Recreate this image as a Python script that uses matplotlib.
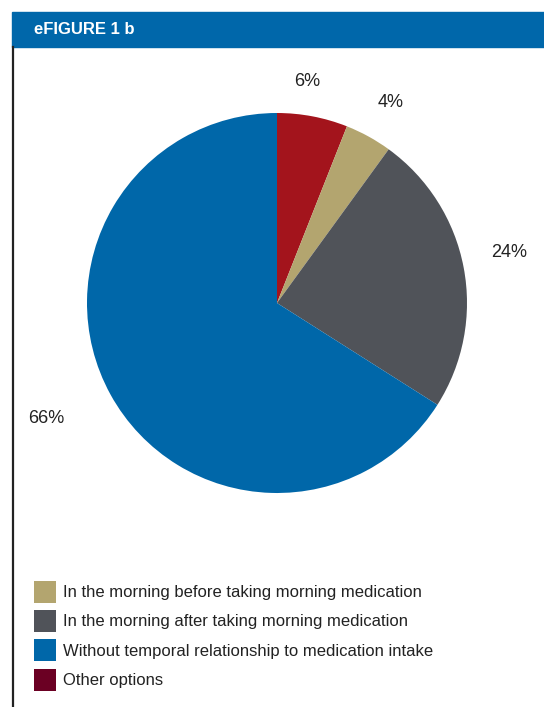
import numpy as np
import matplotlib.pyplot as plt
from matplotlib.patches import Rectangle, Patch
from matplotlib.lines import Line2D

plt.rcParams['font.family'] = ['Liberation Sans', 'DejaVu Sans']

# pie slices, clockwise from 12 o'clock
slice_names = ['Other options',
               'In the morning before taking morning medication',
               'In the morning after taking morning medication',
               'Without temporal relationship to medication intake']
slice_values = [6, 4, 24, 66]
slice_colors = ['#A3141C', '#B3A56F', '#505359', '#0067A9']

# legend order and colours (as printed)
legend_names = ['In the morning before taking morning medication',
                'In the morning after taking morning medication',
                'Without temporal relationship to medication intake',
                'Other options']
legend_colors = ['#B3A56F', '#505359', '#0067A9', '#6B0023']

# percentage label placement: radial distance, angle nudge (deg)
label_dist = [1.175, 1.21, 1.25, 1.358]
label_nudge = [2.9, -0.7, 1.6, -2.3]

W, H = 544, 707
fig = plt.figure(figsize=(W / 100, H / 100), dpi=100)

# header bar
fig.patches.append(Rectangle((12 / W, 1 - 47 / H), 1 - 12 / W, 35 / H,
                             transform=fig.transFigure, color='#0067AA', zorder=0))
fig.text(34 / W, 1 - 30 / H, 'eFIGURE 1 b', color='white', fontsize=12,
         fontweight='bold', va='center', ha='left')
# left rule
fig.lines.append(Line2D([12.8 / W, 12.8 / W], [0, 1 - 47 / H], color='#222222',
                        lw=1.6, transform=fig.transFigure))

# pie
cx, cy, R = 277, 303, 190
box = 400
ax = fig.add_axes([(cx - box / 2) / W, (H - cy - box / 2) / H, box / W, box / H])
wedges, _ = ax.pie(slice_values, colors=slice_colors, startangle=90,
                   counterclock=False, radius=1.0,
                   wedgeprops=dict(linewidth=0))
lim = box / 2 / R
ax.set_xlim(-lim, lim)
ax.set_ylim(-lim, lim)
ax.set_aspect('equal')
ax.axis('off')

for w, v, d, n in zip(wedges, slice_values, label_dist, label_nudge):
    ang = np.deg2rad((w.theta1 + w.theta2) / 2 + n)
    ax.text(d * np.cos(ang), d * np.sin(ang), f'{v}%', ha='center', va='center',
            fontsize=13, color='#222222')

handles = [Patch(facecolor=c, edgecolor='none') for c in legend_colors]
fig.legend(handles, legend_names, loc='upper left',
           bbox_to_anchor=(27 / W, 1 - 574 / H), frameon=False, fontsize=12,
           handlelength=1.32, handleheight=1.654, handletextpad=0.42,
           labelspacing=0.44, borderaxespad=0, labelcolor='#222222')

fig.savefig('out.png', dpi=100, facecolor='white')
